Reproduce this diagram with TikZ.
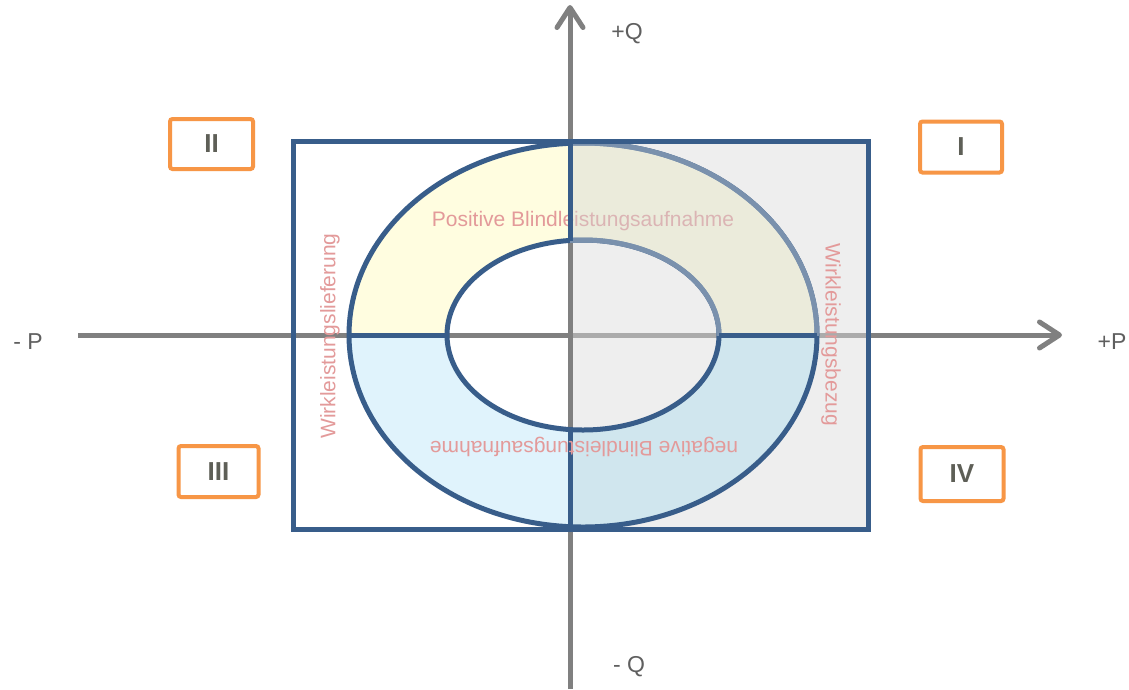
\documentclass[tikz,border=0pt]{standalone}
\usepackage{fontspec}
\setmainfont{Liberation Sans}
\usetikzlibrary{arrows.meta}
\definecolor{frameblue}{HTML}{385D8A}
\definecolor{fadeblue}{HTML}{7A91AD}
\definecolor{axisgray}{HTML}{808080}
\definecolor{axislight}{HTML}{ABABAB}
\definecolor{halfgray}{HTML}{EEEEEE}
\definecolor{ringyellow}{HTML}{FFFDE0}
\definecolor{ringblue}{HTML}{E0F3FC}
\definecolor{ringblueg}{HTML}{D0E6EE}
\definecolor{veil}{RGB}{210,214,214}
\definecolor{txtred}{HTML}{E39A9A}
\definecolor{lblgray}{HTML}{5F5F5F}
\definecolor{numgray}{HTML}{5E5F57}
\definecolor{boxorange}{HTML}{F79646}
\begin{document}
\begin{tikzpicture}[x=1pt,y=-1pt,
  axisline/.style={draw=axisgray, line width=5pt, -{Straight Barb[length=20pt,width=26pt,round]}},
  ringpath/.style={insert path={(583,335) ellipse[x radius=234pt,y radius=192pt] (583,335) ellipse[x radius=136pt,y radius=95pt]}},
  blueline/.style={draw=frameblue, line width=5pt},
  ringtext/.style={font=\fontsize{21}{25}\selectfont, text=txtred, inner sep=0pt},
  axlabel/.style={font=\fontsize{23}{27}\selectfont, text=lblgray, inner sep=0pt},
  numbox/.style={draw=boxorange, line width=4pt, rounded corners=2.5pt, fill=white,
    font=\bfseries\fontsize{26}{30}\selectfont, text=numgray, inner sep=0pt}
]
\useasboundingbox (0,0) rectangle (1129,689);
\fill[white] (0,0) rectangle (1129,689);

% named points
\coordinate (C) at (583,335);
\coordinate (xstart) at (78,335);
\coordinate (xend) at (1062,335);
\coordinate (ystart) at (570,689);
\coordinate (yend) at (570,5);

% right half of the frame (grey)
\fill[halfgray] (570,141) rectangle (868,529);

% ring quadrant fills
\begin{scope}
  \clip (293,100) rectangle (570,335);
  \fill[ringyellow, even odd rule, ringpath];
\end{scope}
\begin{scope}
  \clip (570,100) rectangle (868,335);
  \fill[ringyellow, even odd rule, ringpath];
\end{scope}
\begin{scope}
  \clip (293,335) rectangle (570,560);
  \fill[ringblue, even odd rule, ringpath];
\end{scope}
\begin{scope}
  \clip (570,335) rectangle (868,560);
  \fill[ringblueg, even odd rule, ringpath];
\end{scope}

% axes
\draw[axisline] (xstart) -- (xend);
\draw[axislight, line width=5pt] (570,335) -- (868,335);
\draw[axisline] (ystart) -- (yend);

% ellipse outlines
\draw[blueline] (C) ellipse[x radius=234pt,y radius=192pt];
\draw[blueline] (C) ellipse[x radius=136pt,y radius=95pt];

% upper label, then veil over the upper right quadrant of the ring
\node[ringtext] (pos) at (583,221) {Positive Blindleistungsaufnahme};
\begin{scope}
  \clip (570,100) rectangle (868,335);
  \fill[veil, opacity=0.44, even odd rule, ringpath];
  \draw[fadeblue, line width=5pt] (C) ellipse[x radius=234pt,y radius=192pt];
  \draw[fadeblue, line width=5pt] (C) ellipse[x radius=136pt,y radius=95pt];
\end{scope}

% dividers of the ring
\draw[blueline] (570,143) -- (570,241);
\draw[blueline] (570,429) -- (570,527);
\draw[blueline] (349,335) -- (447,335);
\draw[blueline] (719,335) -- (817,335);

% frame
\draw[blueline] (293,141) rectangle (868,529);

% ring labels
\node[ringtext, rotate=90] (lief) at (330,336) {Wirkleistungslieferung};
\node[ringtext, rotate=-90] (bez) at (831,335) {Wirkleistungsbezug};
\node[ringtext, rotate=180] (neg) at (584,447) {negative Blindleistungsaufnahme};

% axis labels
\node[axlabel] (pq) at (627,34) {+Q};
\node[axlabel] (mq) at (629,667) {- Q};
\node[axlabel] (mp) at (28,342) {- P};
\node[axlabel] (pp) at (1112,342) {+P};

% quadrant boxes
\node[numbox, minimum width=82pt, minimum height=51pt] (q1) at (961,147) {I};
\node[numbox, minimum width=83pt, minimum height=50pt] (q2) at (211.5,144) {II};
\node[numbox, minimum width=80pt, minimum height=51pt] (q3) at (218.5,471.5) {III};
\node[numbox, minimum width=83pt, minimum height=54pt] (q4) at (962,474) {IV};
\end{tikzpicture}
\end{document}
